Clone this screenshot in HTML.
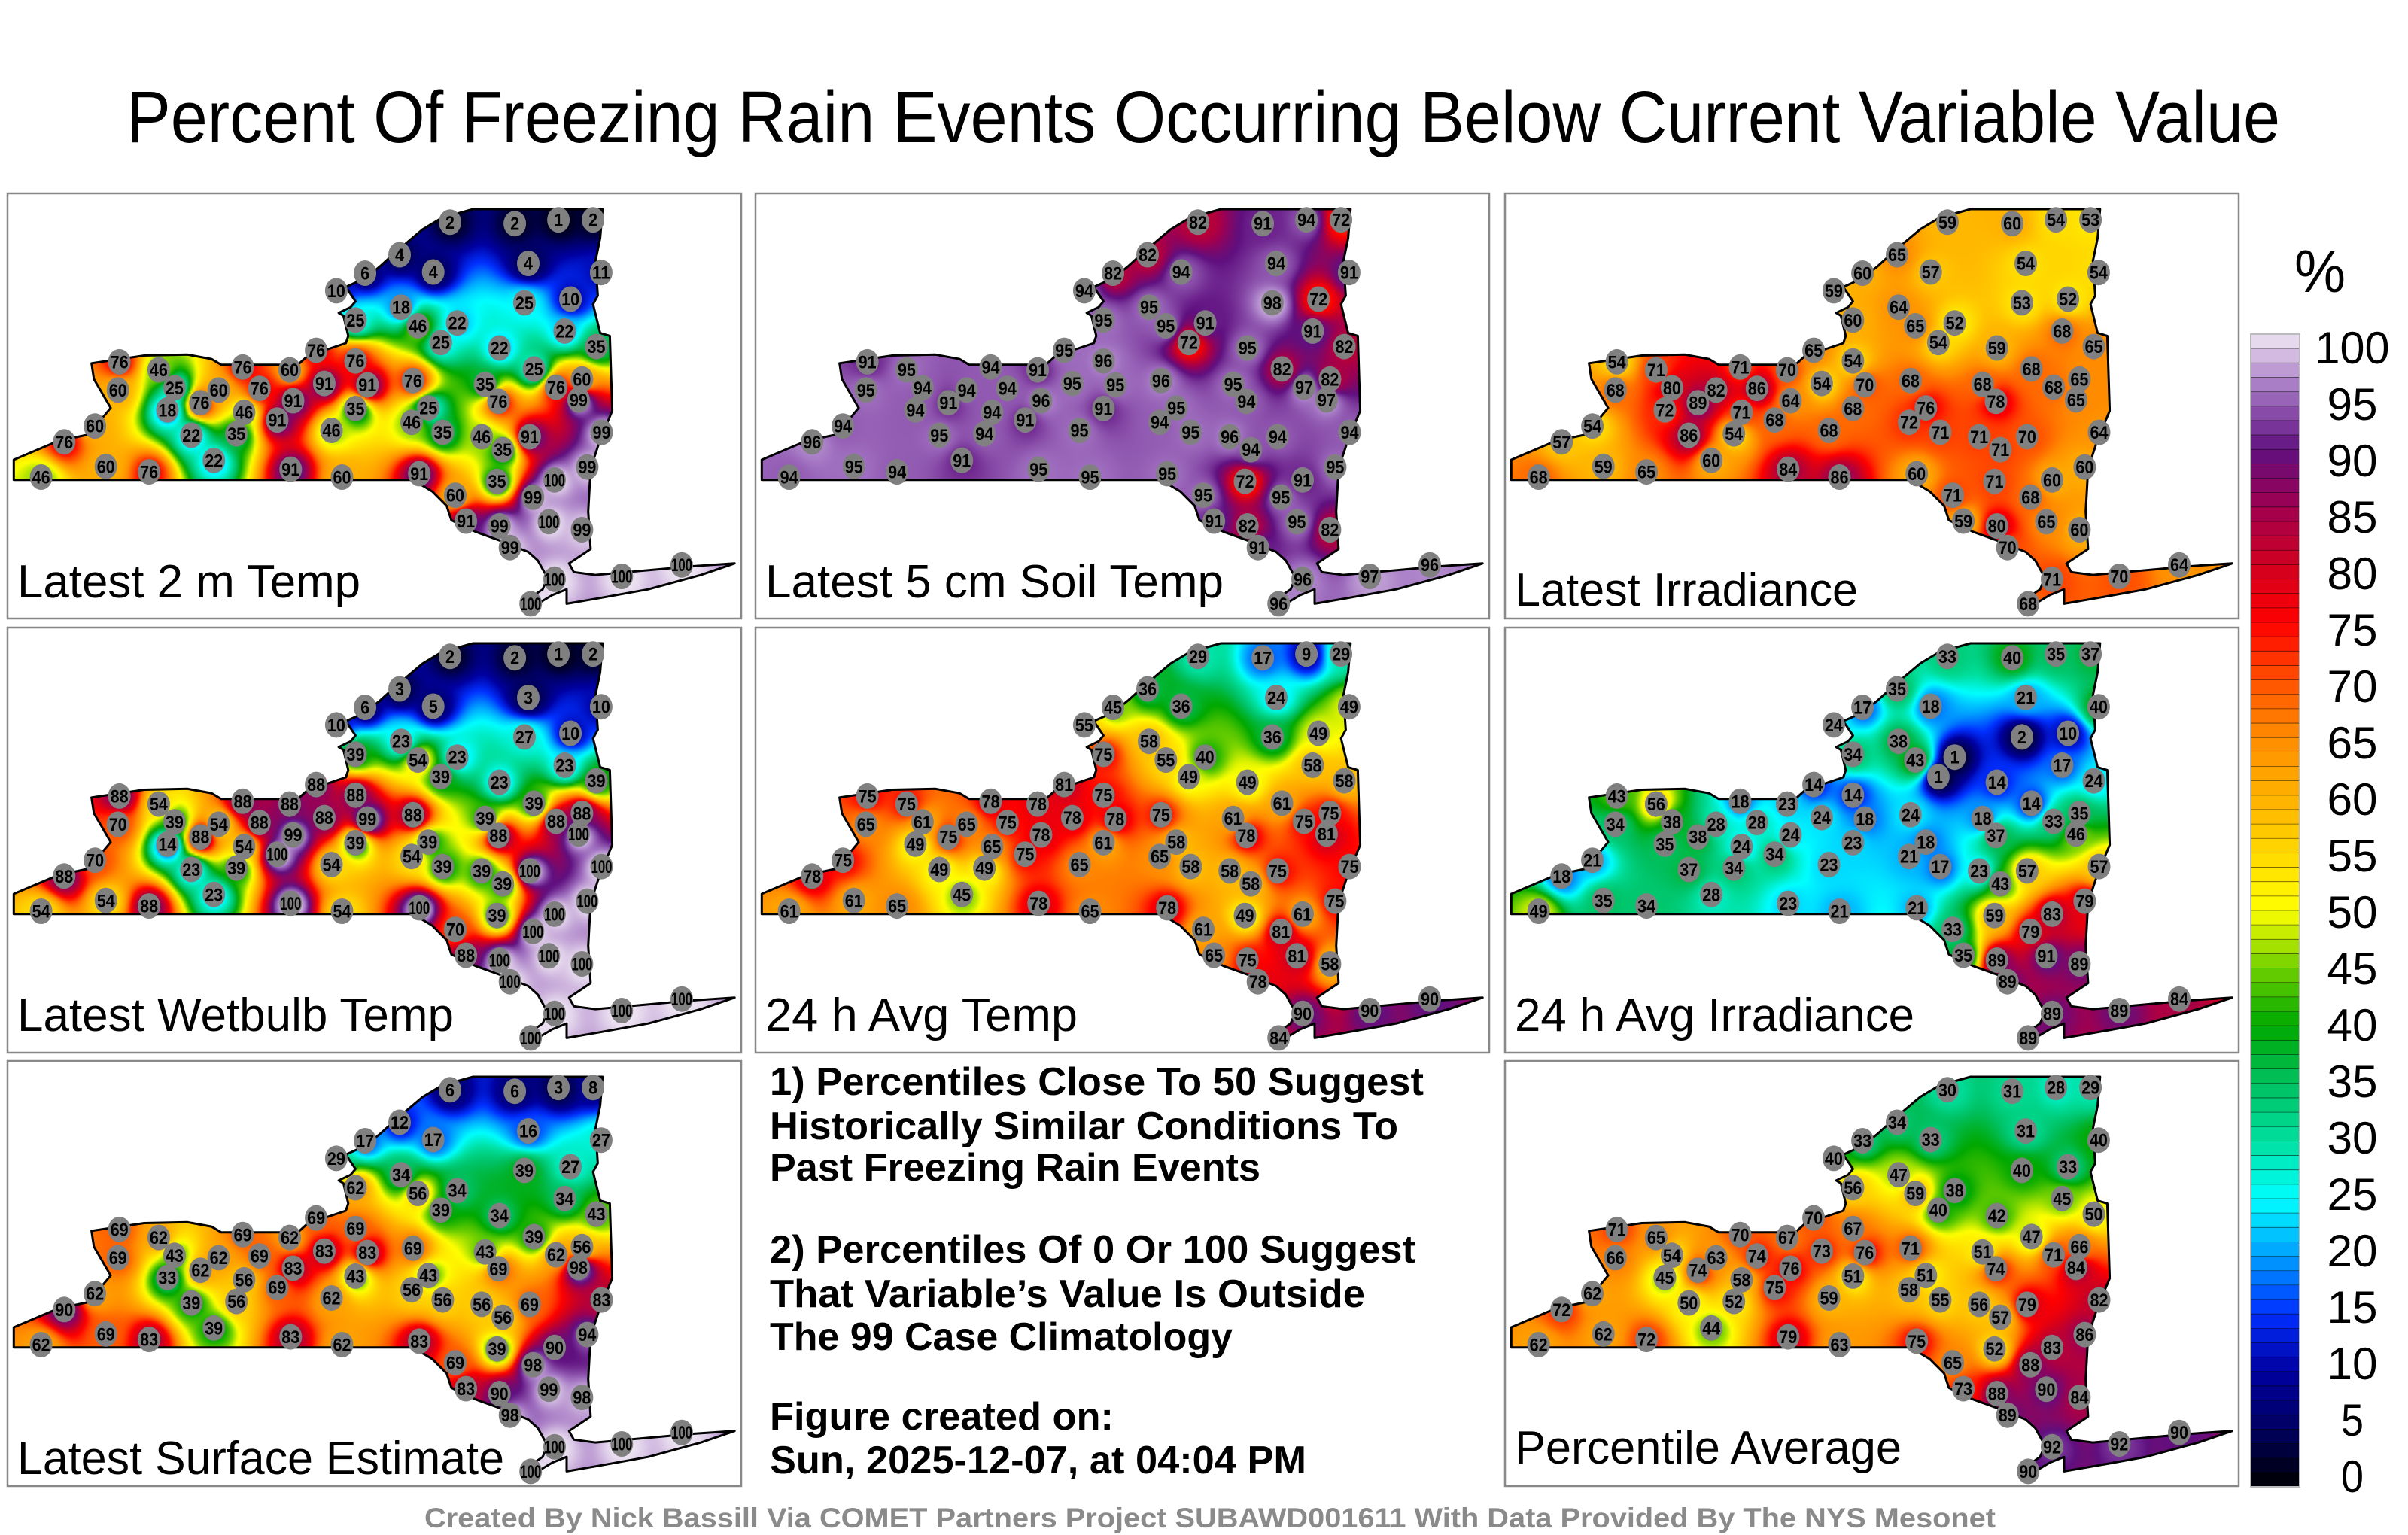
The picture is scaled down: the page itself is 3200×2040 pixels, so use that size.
<!DOCTYPE html>
<html><head><meta charset="utf-8">
<style>
html,body{margin:0;padding:0;background:#fff;}
#wrap{position:relative;width:3200px;height:2040px;background:#fff;overflow:hidden;font-family:"Liberation Sans",sans-serif;}
canvas{position:absolute;}
svg{position:absolute;left:0;top:0;}
</style></head>
<body>
<div id="wrap">
<svg id="svg" width="3200" height="2040" viewBox="0 0 3200 2040"></svg>
</div>
<script>
// Station positions (reference-zoom coordinates, converted to panel coordinates below)
const stX=[937,1072,1163,1235,832,902,760,700,1100,1252,1188,835,740,870,952,1092,1040,1176,1242,658,740,918,1112,1212,248,330,505,603,675,765,860,1010,1158,245,363,455,610,740,892,1038,1205,348,508,577,690,857,1103,1253,197,133,398,492,922,1003,1223,85,220,310,445,605,712,873,1047,1155,948,1110,970,1143,1062,1212,1155,1105,1295,1420,1035,1040,417,540];
const stY=[145,150,137,137,258,318,322,383,288,320,412,440,485,505,495,425,582,523,577,590,627,563,655,690,630,658,648,658,705,710,695,708,718,728,720,728,765,792,790,767,762,797,805,832,868,840,890,875,853,908,885,880,875,890,995,1030,993,1012,972,1003,1030,1018,935,1040,1093,1100,1183,1185,1275,1213,1385,1470,1375,1335,1045,1200,772,722];
// Percentile values per panel
const valsT2m=[2,2,1,2,4,4,6,10,4,11,10,18,25,46,22,25,22,22,35,76,76,25,25,60,76,46,76,60,91,91,76,35,76,60,25,60,91,35,25,76,99,18,46,91,46,46,91,99,60,76,22,35,35,46,99,46,60,76,22,91,60,91,35,100,60,99,91,100,99,99,100,100,100,100,35,99,76,76];
const valsSoil=[82,91,94,72,82,94,82,94,94,91,72,95,95,95,91,98,95,91,82,95,96,72,82,82,91,95,94,91,95,95,96,95,97,95,94,94,96,91,95,94,97,94,94,91,95,94,94,94,94,96,95,94,95,96,95,94,95,94,91,95,95,95,94,91,95,95,91,95,91,82,96,96,97,96,72,82,91,94];
const valsIrr=[59,60,54,53,65,57,60,59,54,54,52,64,60,65,52,53,59,68,65,65,54,54,68,65,54,71,71,70,54,70,68,68,68,68,80,82,64,68,76,78,65,72,71,68,68,72,70,64,54,57,86,54,71,71,60,68,59,65,60,84,86,60,71,60,71,68,59,65,70,60,71,68,70,64,71,80,89,86];
const valsWet=[2,2,1,2,3,5,6,10,3,10,10,23,39,54,23,27,23,23,39,88,88,39,39,88,88,54,88,88,88,99,88,39,88,70,39,54,99,39,39,88,100,14,54,100,54,54,100,100,70,88,23,39,39,39,100,54,54,88,23,100,54,100,39,100,70,100,88,100,100,100,100,100,100,100,39,100,88,88];
const valsAvgT=[29,17,9,29,36,36,45,55,24,49,49,58,75,55,40,36,49,58,58,81,75,49,61,75,75,75,78,78,78,78,75,61,75,65,61,65,78,61,58,78,81,49,65,75,65,65,75,75,75,78,49,49,58,58,75,61,61,65,45,78,65,78,58,61,61,81,65,81,78,58,90,84,90,90,49,75,75,75];
const valsAvgIrr=[33,40,35,37,35,18,17,24,21,40,10,38,34,43,1,2,14,17,24,14,14,1,14,35,43,56,18,23,24,18,24,18,33,34,38,28,24,23,18,37,46,35,24,34,23,21,57,57,21,18,37,34,17,23,79,49,35,34,28,23,21,21,43,83,33,79,35,91,89,89,89,89,89,84,59,89,38,28];
const valsSfc=[6,6,3,8,12,17,17,29,16,27,27,34,62,56,34,39,34,34,43,69,69,39,39,56,69,62,69,62,83,83,69,43,62,69,43,62,83,43,43,69,98,33,56,69,62,56,69,83,62,90,39,56,56,56,94,62,69,83,39,83,62,83,56,90,69,98,83,99,98,98,100,100,100,100,39,90,62,69];
const valsAvg=[30,31,28,29,34,33,33,40,31,40,33,47,56,59,38,40,42,45,50,70,67,40,47,66,71,65,70,67,73,76,71,51,71,66,54,63,76,51,51,74,84,45,58,75,59,58,79,82,62,72,50,52,55,56,86,62,62,72,44,79,63,75,57,83,65,88,73,90,89,84,92,90,92,90,52,88,74,74];
const cbTicks=[0,5,10,15,20,25,30,35,40,45,50,55,60,65,70,75,80,85,90,95,100];

const panels=[
 {x:10,y:257,label:"Latest 2 m Temp",lw:456,lb:537,v:valsT2m,name:"panel-latest-2m-temp"},
 {x:1004,y:257,label:"Latest 5 cm Soil Temp",lw:609,lb:537,v:valsSoil,name:"panel-latest-soil-temp"},
 {x:2000,y:257,label:"Latest Irradiance",lw:456,lb:548,v:valsIrr,name:"panel-latest-irradiance"},
 {x:10,y:834,label:"Latest Wetbulb Temp",lw:580,lb:536,v:valsWet,name:"panel-latest-wetbulb"},
 {x:1004,y:834,label:"24 h Avg Temp",lw:415,lb:536,v:valsAvgT,name:"panel-24h-avg-temp"},
 {x:2000,y:834,label:"24 h Avg Irradiance",lw:531,lb:536,v:valsAvgIrr,name:"panel-24h-avg-irradiance"},
 {x:10,y:1410,label:"Latest Surface Estimate",lw:647,lb:549,v:valsSfc,name:"panel-latest-surface-estimate"},
 {x:2000,y:1410,label:"Percentile Average",lw:514,lb:535,v:valsAvg,name:"panel-percentile-average"}
];
const PW=975,PH=565;
const outlineZ=[[28,1040],[28,970],[120,905],[190,880],[205,840],[230,790],[195,690],[190,635],[300,608],[390,605],[440,620],[460,640],[480,640],[620,640],[640,610],[720,565],[725,540],[715,470],[705,460],[730,440],[740,420],[720,370],[760,340],[790,300],[830,240],[880,170],[920,130],[985,100],[1255,100],[1250,200],[1240,280],[1245,400],[1235,430],[1250,530],[1270,540],[1275,800],[1250,900],[1230,1000],[1225,1150],[1230,1280],[1185,1330],[1195,1360],[1240,1370],[1440,1340],[1530,1330],[1460,1370],[1350,1420],[1250,1450],[1180,1470],[1180,1420],[1150,1440],[1120,1470],[1100,1500],[1095,1460],[1130,1420],[1140,1380],[1120,1320],[1100,1290],[1040,1250],[990,1220],[940,1180],[930,1130],[900,1080],[860,1040]];
const zx=z=>(z-15)/1.568, zy=z=>(z-45)/2.613;
const outline=outlineZ.map(p=>[zx(p[0]),zy(p[1])]);
const SX=stX.map(zx), SY=stY.map(zy);

const stops=[[0,[0,0,0]],[5,[0,0,96]],[10,[0,0,160]],[15,[0,48,255]],[20,[0,160,255]],[25,[0,255,255]],[30,[0,224,160]],[35,[0,192,96]],[40,[0,168,0]],[45,[112,208,0]],[50,[255,255,0]],[55,[255,216,0]],[60,[255,176,0]],[65,[255,140,0]],[70,[255,80,0]],[75,[255,0,0]],[80,[208,0,32]],[85,[160,0,80]],[90,[96,16,128]],[95,[160,112,192]],[100,[240,232,244]]];
function cmap(v){v=Math.max(0,Math.min(100,v));for(let i=1;i<stops.length;i++){if(v<=stops[i][0]){const a=stops[i-1],b=stops[i],t=(v-a[0])/(b[0]-a[0]);return [0,1,2].map(k=>Math.round(a[1][k]+(b[1][k]-a[1][k])*t));}}return stops[stops.length-1][1];}

const NS="http://www.w3.org/2000/svg";
const svg=document.getElementById('svg');
function el(tag,attrs,parent){const e=document.createElementNS(NS,tag);for(const k in attrs)e.setAttribute(k,attrs[k]);(parent||svg).appendChild(e);return e;}
const wrap=document.getElementById('wrap');

// Title
let t=el('text',{x:168,y:189,'font-size':97,'font-family':'Liberation Sans, sans-serif',textLength:2862,lengthAdjust:'spacingAndGlyphs',fill:'#000'});
t.textContent='Percent Of Freezing Rain Events Occurring Below Current Variable Value';



const outlineStr=outline.map(p=>p[0].toFixed(1)+','+p[1].toFixed(1)).join(' ');

panels.forEach(p=>{
  const cv=document.createElement('canvas');cv.width=PW;cv.height=PH;cv.style.left=p.x+'px';cv.style.top=p.y+'px';
  
  
  wrap.insertBefore(cv,svg);
  const s=3,gw=Math.ceil(PW/s),gh=Math.ceil(PH/s);
  const off=document.createElement('canvas');off.width=gw;off.height=gh;
  const octx=off.getContext('2d');const img=octx.createImageData(gw,gh);
  for(let j=0;j<gh;j++)for(let i=0;i<gw;i++){
    const x=i*s,y=j*s;let ws=0,vs=0;
    for(let k=0;k<SX.length;k++){const dx=x-SX[k],dy=y-SY[k];const d2=dx*dx+dy*dy+30;const w=1/(d2*Math.sqrt(d2));ws+=w;vs+=w*p.v[k];}
    const c=cmap(vs/ws);const o=(j*gw+i)*4;img.data[o]=c[0];img.data[o+1]=c[1];img.data[o+2]=c[2];img.data[o+3]=255;}
  octx.putImageData(img,0,0);
  const ctx=cv.getContext('2d');ctx.beginPath();outline.forEach((q,i)=>i?ctx.lineTo(q[0],q[1]):ctx.moveTo(q[0],q[1]));ctx.closePath();ctx.clip();
  ctx.imageSmoothingEnabled=true;ctx.drawImage(off,0,0,gw*s,gh*s);

  const g=el('g',{transform:`translate(${p.x},${p.y})`});
  
  
  const fr=el('rect',{x:0,y:0,width:PW,height:PH,fill:'none',stroke:'#888',"stroke-width":2.5},g);
  
  
  const ol=el('polygon',{points:outlineStr,fill:'none',stroke:'#000','stroke-width':3,'stroke-linejoin':'round'},g);
  
  
  p.v.forEach((v,k)=>{
    const c=el('ellipse',{cx:SX[k].toFixed(1),cy:SY[k].toFixed(1),rx:15,ry:17,fill:'#808080'},g);
    
    
    const str=String(v);
    const tt=el('text',{x:SX[k].toFixed(1),y:(SY[k]+8.5).toFixed(1),'text-anchor':'middle','font-size':24,'font-weight':'bold','font-family':'Liberation Sans, sans-serif',fill:'#000',textLength:str.length===3?28:str.length*12,lengthAdjust:'spacingAndGlyphs'},g);
    tt.textContent=str;
    
    
  });
  const lab=el('text',{x:13,y:p.lb,'font-size':62,'font-family':'Liberation Sans, sans-serif',fill:'#000',textLength:p.lw,lengthAdjust:'spacingAndGlyphs'},g);
  lab.textContent=p.label;
  
  
});

// Notes
const notes=[["1) Percentiles Close To 50 Suggest",1455,869],["Historically Similar Conditions To",1514,835],["Past Freezing Rain Events",1569,652],["2) Percentiles Of 0 Or 100 Suggest",1678,858],["That Variable\u2019s Value Is Outside",1737,791],["The 99 Case Climatology",1794,615],["Figure created on:",1900,457],["Sun, 2025-12-07, at 04:04 PM",1958,713]];
notes.forEach(n=>{const e=el('text',{x:1023,y:n[1],'font-size':52,'font-weight':'bold','font-family':'Liberation Sans, sans-serif',fill:'#000',textLength:n[2],lengthAdjust:'spacingAndGlyphs'});e.textContent=n[0];
  
  });

// Footer
const f=el('text',{x:564,y:2030,'font-size':37,'font-weight':'bold','font-family':'Liberation Sans, sans-serif',fill:'#8a8a8a',textLength:2088,lengthAdjust:'spacingAndGlyphs'});
f.textContent='Created By Nick Bassill Via COMET Partners Project SUBAWD001611 With Data Provided By The NYS Mesonet';



// Colorbar
const cbX=2991,cbW=65,cbTop=444,cbBot=1976;
const cby=v=>cbBot-(v/100)*(cbBot-cbTop);
const lby=v=>1961-(v/100)*1500;
const cbg=el('g',{});


for(let v=0;v<100;v+=1.25){const c=cmap(v+0.6);
  const r=el('rect',{x:cbX,y:cby(v+1.25).toFixed(2),width:cbW,height:(cby(v)-cby(v+1.25)+0.3).toFixed(2),fill:`rgb(${c[0]},${c[1]},${c[2]})`},cbg);
  
  
  const l=el('line',{x1:cbX,x2:cbX+cbW,y1:cby(v).toFixed(2),y2:cby(v).toFixed(2),stroke:'#000','stroke-width':0.8,'stroke-opacity':0.6},cbg);
  
  }
const cbf=el('rect',{x:cbX,y:cbTop,width:cbW,height:cbBot-cbTop,fill:'none',stroke:'#bbb','stroke-width':2},cbg);


cbTicks.forEach(v=>{const s=String(v);const e=el('text',{x:3126,y:(lby(v)+22).toFixed(1),'text-anchor':'middle','font-size':60,'font-family':'Liberation Sans, sans-serif',fill:'#000',textLength:s.length===3?99:(s.length===2?67:30),lengthAdjust:'spacingAndGlyphs'},cbg);e.textContent=s;
  
  });
const pc=el('text',{x:3083,y:388,'text-anchor':'middle','font-size':80,'font-family':'Liberation Sans, sans-serif',fill:'#000',textLength:68,lengthAdjust:'spacingAndGlyphs'},cbg);
pc.textContent='%';


</script>
</body></html>
